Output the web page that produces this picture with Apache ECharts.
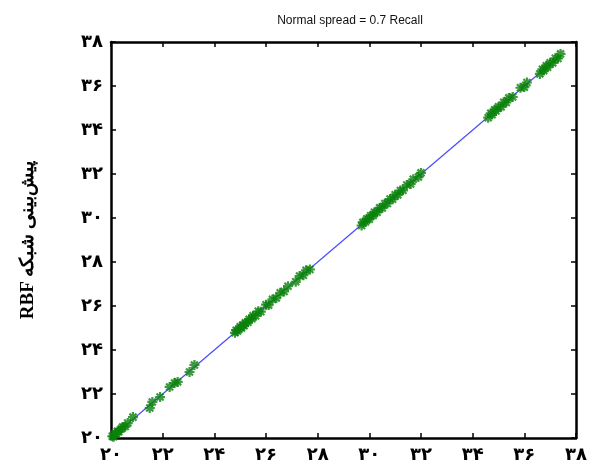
<!DOCTYPE html>
<html>
<head>
<meta charset="utf-8">
<script src="https://cdn.jsdelivr.net/npm/echarts@6/dist/echarts.min.js"></script>
<style>
  html, body { margin: 0; padding: 0; background: #fff; }
  #chart { width: 590px; height: 464px; }
</style>
</head>
<body>
<div id="chart"></div>
<script>
// Target values vs. RBF network prediction (recall set)
const targetX = [
  20.00, 20.05, 20.10, 20.15, 20.20, 20.25, 20.30, 20.40, 20.45, 20.55, 20.65, 20.85,
  21.50, 21.60, 21.90, 22.27, 22.46, 22.58, 23.04, 23.23,
  24.80, 24.85, 24.90, 25.00, 25.05, 25.10, 25.15, 25.20, 25.30, 25.35, 25.45, 25.50,
  25.60, 25.70, 25.80, 26.00, 26.10, 26.25, 26.40, 26.55, 26.70, 26.85, 27.15, 27.30,
  27.45, 27.55, 27.70,
  29.70, 29.75, 29.85, 29.90, 30.00, 30.05, 30.15, 30.20, 30.30, 30.40, 30.50, 30.60,
  30.70, 30.80, 30.90, 31.00, 31.10, 31.20, 31.30, 31.45, 31.60, 31.70, 31.90, 32.00,
  34.60, 34.70, 34.75, 34.85, 34.90, 35.00, 35.10, 35.20, 35.30, 35.40, 35.55, 35.85,
  36.00, 36.10,
  36.60, 36.70, 36.75, 36.85, 36.90, 37.00, 37.10, 37.20, 37.30, 37.40
];
const predictedY = [
  19.98, 20.08, 20.06, 20.20, 20.17, 20.30, 20.28, 20.42, 20.50, 20.52, 20.68, 20.95,
  21.36, 21.64, 21.86, 22.32, 22.50, 22.55, 23.00, 23.32,
  24.78, 24.90, 24.86, 25.06, 25.00, 25.14, 25.10, 25.24, 25.26, 25.40, 25.42, 25.56,
  25.55, 25.76, 25.74, 26.06, 26.04, 26.30, 26.36, 26.60, 26.66, 26.90, 27.10, 27.36,
  27.40, 27.62, 27.66,
  29.66, 29.80, 29.82, 29.96, 29.95, 30.10, 30.12, 30.26, 30.26, 30.46, 30.46, 30.66,
  30.66, 30.86, 30.85, 31.06, 31.05, 31.25, 31.26, 31.50, 31.55, 31.76, 31.86, 32.05,
  34.56, 34.76, 34.70, 34.92, 34.86, 35.06, 35.05, 35.26, 35.25, 35.46, 35.50, 35.92,
  35.95, 36.16,
  36.55, 36.76, 36.70, 36.92, 36.85, 37.06, 37.05, 37.26, 37.25, 37.46
];
// Reference line y = x over the data range
const idealX = [20, 37.4];
const idealY = [20, 37.4];

const tickValues = [20, 22, 24, 26, 28, 30, 32, 34, 36, 38];
const tickLabels = ['۲۰', '۲۲', '۲۴', '۲۶', '۲۸', '۳۰', '۳۲', '۳۴', '۳۶', '۳۸'];

const chartTitle = 'Normal spread = 0.7 Recall';
const yAxisName = 'RBF پیش‌بینی شبکه';

const fmt = v => {
  const i = tickValues.indexOf(Math.round(v * 1000) / 1000);
  return i >= 0 ? tickLabels[i] : '';
};

// MATLAB-style '*' marker
const asterisk = 'path://M0,-10 L0,10 M-10,0 L10,0 M-7,-7 L7,7 M-7,7 L7,-7';

const axisCommon = {
  type: 'value', min: 20, max: 38, interval: 2,
  axisLine: { show: true, onZero: false, lineStyle: { color: '#000', width: 2.5 } },
  axisTick: { show: true, inside: true, length: 5, lineStyle: { color: '#000', width: 1.5 } },
  splitLine: { show: false }
};

const chart = echarts.init(document.getElementById('chart'), null, { renderer: 'canvas' });
chart.setOption({
  animation: false,
  backgroundColor: '#fff',
  title: {
    text: chartTitle, left: 345, top: 10, textAlign: 'center',
    textStyle: { fontFamily: 'Liberation Sans Narrow, Liberation Sans', fontSize: 12, fontWeight: 'normal', color: '#111' }
  },
  grid: { left: 111, right: 11, top: 42, bottom: 26, containLabel: false },
  xAxis: [
    Object.assign({}, axisCommon, {
      position: 'bottom',
      axisLabel: { formatter: fmt, margin: 8, fontFamily: 'DejaVu Sans', fontWeight: 'bold', fontSize: 18, color: '#000' }
    }),
    Object.assign({}, axisCommon, { position: 'top', axisLabel: { show: false } })
  ],
  yAxis: [
    Object.assign({}, axisCommon, {
      position: 'left',
      name: yAxisName, nameLocation: 'middle', nameRotate: 90, nameGap: 73,
      nameTextStyle: { fontFamily: 'Liberation Serif, DejaVu Serif', fontWeight: 'bold', fontSize: 19, color: '#000' },
      axisLabel: { formatter: fmt, margin: 8, fontFamily: 'DejaVu Sans', fontWeight: 'bold', fontSize: 18, color: '#000' }
    }),
    Object.assign({}, axisCommon, { position: 'right', axisLabel: { show: false } })
  ],
  series: [
    {
      type: 'line',
      data: idealX.map((x, i) => [x, idealY[i]]),
      symbol: 'none',
      lineStyle: { color: '#4a4aff', width: 1.2 },
      z: 2
    },
    {
      type: 'scatter',
      data: targetX.map((x, i) => [x, predictedY[i]]),
      symbol: asterisk,
      symbolSize: 10,
      itemStyle: { color: '#0a820a', borderColor: '#0a820a', borderWidth: 2.2 },
      z: 3
    }
  ]
});
</script>
</body>
</html>
